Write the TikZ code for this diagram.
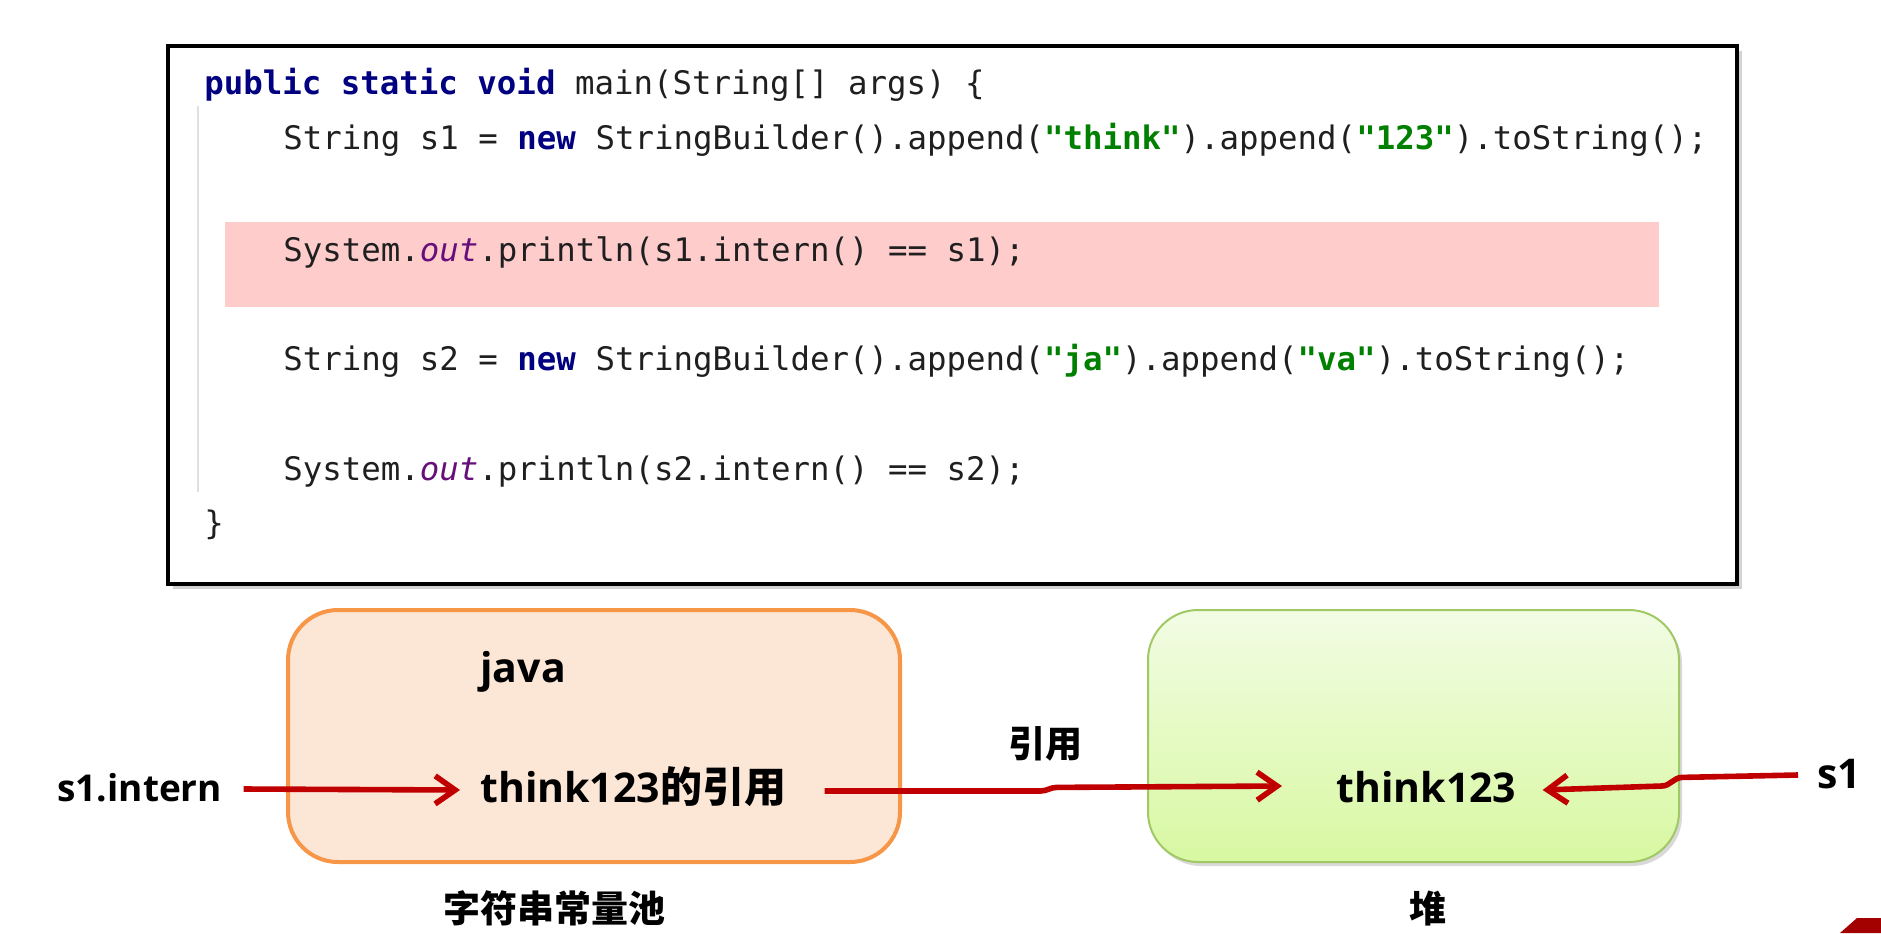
\documentclass[tikz,border=0pt]{standalone}
\usepackage{fontspec}
\usepackage{xcolor}
\usetikzlibrary{calc, positioning, shadows, arrows.meta}

\newfontfamily\codefont{DejaVu Sans Mono}
\newfontfamily\labelfont{Open Sans}
\newfontfamily\cjkfont{Noto Sans CJK SC}

\definecolor{kwblue}{RGB}{0,0,128}
\definecolor{strgreen}{RGB}{0,128,0}
\definecolor{fieldpurple}{RGB}{102,14,122}
\definecolor{hlpink}{RGB}{255,204,204}
\definecolor{pooledge}{RGB}{247,150,70}
\definecolor{poolfill}{RGB}{252,230,214}
\definecolor{heapedge}{RGB}{160,200,100}
\definecolor{heaptop}{RGB}{242,252,228}
\definecolor{heapbottom}{RGB}{216,248,162}
\definecolor{refred}{RGB}{192,0,0}

\newcommand{\jkw}[1]{\textcolor{kwblue}{\bfseries #1}}
\newcommand{\jstr}[1]{\textcolor{strgreen}{\bfseries #1}}
\newcommand{\jfield}[1]{\textcolor{fieldpurple}{\itshape #1}}
\newcommand{\cjkb}{\fontsize{18.5}{22}\cjkfont\bfseries}
\newcommand{\cjkbig}{\fontsize{21}{25}\cjkfont\bfseries}

\tikzset{
	codebox/.style={draw=black, line width=2.2pt, fill=white, minimum width=784.5pt, minimum height=269pt,
		drop shadow={shadow xshift=2.5pt, shadow yshift=-2.5pt, opacity=.35}},
	codeline/.style={anchor=base west, inner sep=0pt, text=black!88, font=\fontsize{16.2}{19}\codefont},
	gutter/.style={draw=black!12, line width=1pt},
	poolbox/.style={draw=pooledge, line width=2pt, fill=poolfill, rounded corners=25pt,
		minimum width=306pt, minimum height=126pt},
	heapbox/.style={draw=heapedge, line width=1pt, top color=heaptop, bottom color=heapbottom, rounded corners=25pt,
		minimum width=265.5pt, minimum height=126pt,
		drop shadow={shadow xshift=1.5pt, shadow yshift=-2pt, opacity=.3}},
	lbl/.style={anchor=base west, inner sep=0pt, font=\fontsize{18.5}{22}\labelfont\bfseries},
	biglbl/.style={lbl, font=\fontsize{20.5}{24}\labelfont\bfseries},
	cjklbl/.style={inner sep=0pt, font=\cjkb},
	refarrow/.style={draw=refred, line width=2.8pt, -{Straight Barb[length=10pt, width=14pt]}}
}

\begin{document}
\begin{tikzpicture}[x=0.5pt, y=-0.5pt]
		\useasboundingbox (0,0) rectangle (1881,933);

		% the code
		\node[codebox] (code) at (952.5,315) {};
		\fill[hlpink] (225,222) rectangle (1659,307);
		\draw[gutter] (198,106) -- (198,492);

		\node[codeline] (line1) at (204,94) {\jkw{public} \jkw{static} \jkw{void} main(String[] args) \{};
		\node[codeline] (line2) at (283,149) {String s1 = \jkw{new} StringBuilder().append(\jstr{"think"}).append(\jstr{"123"}).toString();};
		\node[codeline] (line3) at (283,261) {System.\jfield{out}.println(s1.intern() == s1);};
		\node[codeline] (line4) at (283,370) {String s2 = \jkw{new} StringBuilder().append(\jstr{"ja"}).append(\jstr{"va"}).toString();};
		\node[codeline] (line5) at (283,480) {System.\jfield{out}.println(s2.intern() == s2);};
		\node[codeline] (line6) at (204,534) {\}};

		% pool and heap
		\node[poolbox] (pool) at (594,736) {};
		\node[heapbox] (heap) at (1413.5,736) {};

		\node[biglbl] (java) at (480,682) {java};
		\node[biglbl] (ref) at (480,802) {think123{\cjkbig 的引用}};
		\node[lbl] (intern) at (57,801) {s1.intern};
		\node[biglbl] (obj) at (1336,802) {think123};
		\node[biglbl] (s1) at (1817,788) {s1};

		\node[cjklbl] (reflabel) at (1045,744) {引用};
		\node[cjklbl] (poolname) at (554,908) {字符串常量池};
		\node[cjklbl] (heapname) at (1428,908) {堆};

		% references
		\draw[refarrow] ([xshift=10.5pt, yshift=6pt]intern.base east) -- ([xshift=-10pt, yshift=6pt]ref.base west);

		\draw[refarrow] ([xshift=19pt, yshift=5.5pt]ref.base east) -- ++(108pt,0)
			.. controls +(3pt,0) and +(-3pt,0) .. ++(8pt,1.8pt) -- ([xshift=-27pt, yshift=8pt]obj.base west);

		\draw[refarrow] ([xshift=-9.5pt, yshift=6.5pt]s1.base west) -- ++(-58pt,-1.2pt)
			.. controls +(-4pt,0) and +(4pt,0) .. ++(-10pt,-4.3pt) -- ([xshift=13pt, yshift=6pt]obj.base east);

		% corner
		\fill[refred!85!black] (1840,933) -- (1857,918) -- (1881,918) -- (1881,933) -- cycle;
	\end{tikzpicture}
\end{document}
